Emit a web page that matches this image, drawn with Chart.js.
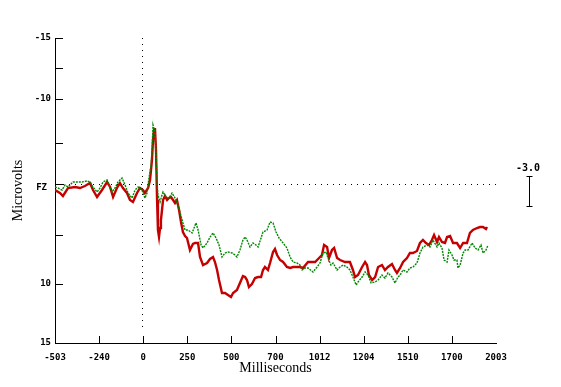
<!DOCTYPE html>
<html>
<head>
<meta charset="utf-8">
<script src="https://cdn.jsdelivr.net/npm/chart.js@4.4.1/dist/chart.umd.min.js"></script>
<style>
  body { margin: 0; background: #fff; }
  canvas { display: block; }
</style>
</head>
<body>
<canvas id="erp" width="561" height="387"></canvas>
<script>
// tick labels as printed on the original plot (evenly spaced, odd values)
var xTickLabels = ['-503', '-240', '0', '250', '500', '700', '1012', '1204', '1510', '1700', '2003'];
var yTickValues = [-14.6, -11.6, -8.5, -4.1, 0, 5.1, 10, 15.9];
var yTickLabels = ['-15', '', '-10', '', '', '', '10', '15'];

// red trace (ms / microvolts)
var redMs = [-503,-475,-458,-429,-389,-361,-333,-304,-287,-264,-236,-207,-190,-173,-151,-134,-117,-94,-77,-60,-37,-20,-3,8,26,37,48,54,60,65,71,77,82,88,94,99,105,111,122,134,145,156,168,179,190,202,213,224,236,247,264,281,293,310,321,338,361,378,395,406,418,429,446,463,480,497,509,531,548,565,577,588,599,616,634,651,668,679,690,707,719,736,747,759,776,793,815,833,850,872,889,906,935,975,992,1014,1026,1043,1054,1071,1083,1100,1117,1145,1173,1190,1202,1219,1242,1259,1270,1281,1299,1316,1333,1355,1372,1389,1412,1429,1440,1458,1475,1497,1514,1531,1554,1571,1588,1605,1622,1639,1651,1668,1679,1696,1713,1725,1742,1759,1781,1799,1816,1838,1855,1872,1895,1912,1929,1946,1952];
var redUv = [0.6,0.9,1.2,0.4,0.3,0.4,0.2,-0.1,0.6,1.3,0.6,-0.2,0.3,1.3,0.4,-0.1,0.4,0.9,1.6,1.8,0.9,0.4,0.6,0.9,0.4,-0.4,-2.4,-4.4,-5.4,-5.6,-3.4,1.6,4.6,5.3,4.4,3.6,2.6,1.6,1.2,1.6,1.4,1.3,1.6,1.9,1.6,2.6,3.8,4.8,5.2,5.4,6.6,6.0,5.9,5.9,7.3,8.1,7.9,7.5,7.3,7.8,8.6,9.6,10.9,10.9,11.1,11.3,10.9,10.6,9.9,9.2,9.3,9.6,10.3,10.0,9.4,9.3,9.3,8.6,8.3,8.6,7.9,6.8,6.5,7.1,7.6,7.8,8.3,8.4,8.3,8.3,8.3,8.4,7.8,7.8,7.5,7.1,6.1,6.3,7.4,6.6,6.4,7.4,7.6,7.8,7.8,8.6,9.3,9.1,8.3,7.8,8.1,9.1,9.6,9.3,8.3,8.1,8.6,8.3,8.0,8.6,8.9,8.4,7.8,7.4,6.9,6.9,6.7,5.9,5.6,5.9,6.1,5.6,5.1,5.8,5.3,5.8,5.9,5.3,5.2,5.9,5.9,6.4,5.9,5.9,4.9,4.6,4.4,4.3,4.3,4.5,4.3];

// green trace (ms / microvolts)
var greenMs = [-503,-486,-463,-446,-429,-401,-378,-350,-321,-304,-287,-264,-247,-230,-207,-196,-179,-162,-145,-122,-105,-88,-65,-48,-31,-9,8,20,31,43,48,54,65,71,77,82,94,105,111,128,145,162,179,196,207,224,236,253,276,298,310,327,338,361,378,395,412,429,446,463,480,503,520,531,548,565,577,588,605,622,639,651,668,679,702,719,736,753,770,793,815,833,850,872,889,901,918,935,963,986,1003,1020,1037,1048,1065,1077,1100,1117,1134,1156,1173,1190,1208,1219,1242,1259,1276,1293,1316,1333,1355,1372,1389,1412,1429,1446,1458,1475,1497,1514,1531,1554,1571,1588,1611,1628,1645,1668,1679,1696,1708,1725,1736,1753,1764,1781,1787,1799,1816,1827,1844,1867,1884,1901,1918,1929,1946,1958];
var greenUv = [0.3,0.4,0.6,0.1,0.3,-0.2,-0.2,-0.2,-0.3,-0.2,0.3,0.8,0.4,-0.2,-0.4,0.1,0.8,0.4,-0.2,-0.6,0.1,0.9,1.4,0.6,0.3,0.6,1.4,0.9,-0.6,-1.9,-3.2,-5.9,-5.2,-3.2,-0.2,1.1,1.8,1.1,0.8,1.3,1.4,0.9,1.4,2.1,2.8,3.9,4.6,4.6,4.9,3.9,4.6,6.1,6.4,5.9,5.3,4.9,5.4,6.1,7.3,6.9,6.8,6.9,7.1,7.3,6.6,5.6,5.3,5.6,6.3,5.9,6.1,6.3,5.4,4.8,4.6,3.8,3.9,4.8,5.4,5.9,6.4,7.3,7.8,7.9,8.1,8.6,8.4,8.4,8.8,8.3,7.9,6.9,6.8,7.4,8.1,7.9,8.6,8.3,8.1,8.3,8.6,9.3,10.1,9.8,9.3,8.8,9.1,9.9,9.8,9.6,9.1,9.4,8.9,9.3,9.9,9.3,9.1,8.6,8.8,8.4,8.3,7.9,6.9,6.3,6.1,6.3,5.6,6.3,5.9,6.4,7.6,7.8,6.6,7.1,7.6,7.6,8.4,8.1,6.9,6.6,6.6,5.9,6.4,6.6,6.1,6.9,6.6,6.1];

function pairs(xs, ys) {
  return xs.map(function (v, i) { return { x: v, y: ys[i] }; });
}

var tickFont = { family: 'DejaVu Sans Mono', size: 9, weight: 'bold' };
var titleFont = { family: 'Liberation Serif', size: 14 };

// dotted zero lines, inward ticks, channel name and the -3.0 calibration bar
var marks = {
  id: 'marks',
  beforeDatasetsDraw: function (chart) {
    var ctx = chart.ctx, a = chart.chartArea, x = chart.scales.x, y = chart.scales.y;
    ctx.save();
    ctx.strokeStyle = '#000';
    ctx.lineWidth = 1;
    ctx.setLineDash([1, 5]);
    var y0 = Math.round(y.getPixelForValue(0)) + 0.5;
    var x0 = Math.round(x.getPixelForValue(0)) - 1.5;
    ctx.beginPath();
    ctx.moveTo(a.left + 2, y0);
    ctx.lineTo(a.right + 2, y0);
    ctx.moveTo(x0, a.top);
    ctx.lineTo(x0, y.getPixelForValue(14.3));
    ctx.stroke();
    ctx.restore();
  },
  afterDraw: function (chart) {
    var ctx = chart.ctx, a = chart.chartArea, x = chart.scales.x, y = chart.scales.y;
    ctx.save();
    ctx.strokeStyle = '#000';
    ctx.lineWidth = 1;
    ctx.beginPath();
    y.ticks.forEach(function (t) {
      var p = Math.round(y.getPixelForValue(t.value)) + 0.5;
      ctx.moveTo(a.left, p);
      ctx.lineTo(a.left + 8, p);
    });
    x.ticks.forEach(function (t, i) {
      if (i === x.ticks.length - 1) return;
      var p = Math.round(x.getPixelForValue(t.value)) + 0.5;
      ctx.moveTo(p, a.bottom);
      ctx.lineTo(p, a.bottom - 7);
    });
    // calibration bar, 3.0 microvolts tall
    var bx = 529.5;
    var bTop = Math.round(y.getPixelForValue(-0.8)) + 0.5;
    var bBot = Math.round(y.getPixelForValue(2.2)) + 0.5;
    ctx.moveTo(bx, bTop); ctx.lineTo(bx, bBot);
    ctx.moveTo(bx - 3, bTop); ctx.lineTo(bx + 3, bTop);
    ctx.moveTo(bx - 3, bBot); ctx.lineTo(bx + 3, bBot);
    ctx.stroke();

    ctx.fillStyle = '#000';
    ctx.font = 'bold 10px "DejaVu Sans Mono"';
    ctx.textAlign = 'center';
    ctx.textBaseline = 'middle';
    ctx.fillText('-3.0', 528, 168);
    ctx.font = 'bold 9px "DejaVu Sans Mono"';
    ctx.textAlign = 'right';
    ctx.fillText('FZ', 47, y.getPixelForValue(0.4));
    ctx.restore();
  }
};

new Chart(document.getElementById('erp'), {
  type: 'line',
  data: {
    datasets: [
      {
        label: 'green',
        data: pairs(greenMs, greenUv),
        borderColor: '#008800',
        borderWidth: 1.4,
        borderDash: [2, 1],
        pointRadius: 0,
        tension: 0,
        fill: false
      },
      {
        label: 'red',
        data: pairs(redMs, redUv),
        borderColor: '#c40000',
        borderWidth: 2.4,
        pointRadius: 0,
        tension: 0,
        fill: false
      }
    ]
  },
  options: {
    responsive: false,
    animation: false,
    layout: { padding: { top: 38, right: 65, left: 0, bottom: 0 } },
    plugins: { legend: { display: false }, tooltip: { enabled: false } },
    scales: {
      x: {
        type: 'linear',
        position: 'bottom',
        min: -503,
        max: 2003,
        afterBuildTicks: function (s) {
          s.ticks = xTickLabels.map(function (l, i) { return { value: -503 + i * 250.6 }; });
        },
        afterFit: function (s) { s.height = 44; },
        grid: { drawOnChartArea: false, drawTicks: false },
        border: { display: true, color: '#000', width: 1 },
        ticks: {
          autoSkip: false,
          maxRotation: 0,
          padding: 9,
          color: '#000',
          font: tickFont,
          callback: function (v, i) { return xTickLabels[i]; }
        },
        title: { display: true, text: 'Milliseconds', color: '#000', font: titleFont, padding: { top: 0, bottom: 10 } }
      },
      y: {
        type: 'linear',
        reverse: true,
        min: -14.6,
        max: 15.9,
        afterBuildTicks: function (s) {
          s.ticks = yTickValues.map(function (v) { return { value: v }; });
        },
        afterFit: function (s) { s.width = 55; },
        grid: { drawOnChartArea: false, drawTicks: false },
        border: { display: true, color: '#000', width: 1 },
        ticks: {
          padding: 4,
          color: '#000',
          font: tickFont,
          callback: function (v, i) { return yTickLabels[i]; }
        },
        title: { display: true, text: 'Microvolts', color: '#000', font: titleFont, padding: { top: 10, bottom: 0 } }
      }
    }
  },
  plugins: [marks]
});
</script>
</body>
</html>
